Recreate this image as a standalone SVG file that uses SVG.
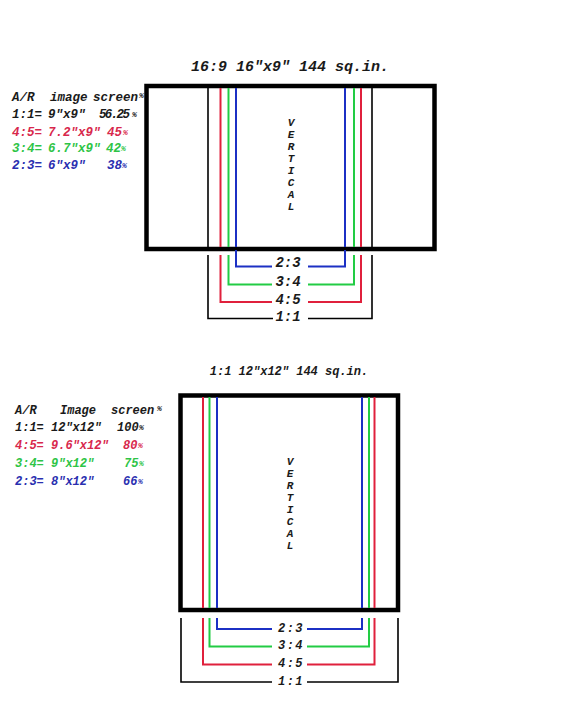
<svg xmlns="http://www.w3.org/2000/svg" width="576" height="720" viewBox="0 0 576 720">
<style>
text{font-family:"Liberation Mono","DejaVu Sans Mono",monospace;font-weight:bold;font-style:italic;fill:#1a1a1a}
.r{fill:#d8284c}.g{fill:#2ec446}.b{fill:#2a2fb0}
.frame{fill:none;stroke:#000;stroke-width:4.5}
.k{fill:none;stroke:#000;stroke-width:1.6}
.lr{fill:none;stroke:#e0203c;stroke-width:2}
.lg{fill:none;stroke:#22cc44;stroke-width:2}
.lb{fill:none;stroke:#1c30c4;stroke-width:2}
.pct{font-size:8px}
.vt{font-size:11px;text-anchor:middle}
.lbl1{font-size:14px;text-anchor:middle}
.lbl2{font-size:12px;text-anchor:middle;letter-spacing:1.5px}
</style>
<rect width="576" height="720" fill="#fff"/>

<g id="title-169"><text x="290" y="71" font-size="15" text-anchor="middle">16:9 16"x9" 144 sq.in.</text></g>

<g id="legend-169">
<text y="101" font-size="12.5"><tspan x="12">A/R</tspan><tspan x="50">image</tspan><tspan x="93">screen</tspan><tspan x="139" class="pct" dy="-3">%</tspan></text>
<text y="118" font-size="12.5"><tspan x="12">1:1=</tspan><tspan x="48">9"x9"</tspan><tspan x="99" textLength="31">56.25</tspan><tspan x="132" class="pct" dy="-1">%</tspan></text>
<text y="136" font-size="12.5" class="r"><tspan x="12">4:5=</tspan><tspan x="48">7.2"x9"</tspan><tspan x="107">45</tspan><tspan x="123" class="pct" dy="-1">%</tspan></text>
<text y="152" font-size="12.5" class="g"><tspan x="12">3:4=</tspan><tspan x="48">6.7"x9"</tspan><tspan x="106">42</tspan><tspan x="121" class="pct" dy="-1">%</tspan></text>
<text y="169" font-size="12.5" class="b"><tspan x="12">2:3=</tspan><tspan x="48">6"x9"</tspan><tspan x="107">38</tspan><tspan x="122" class="pct" dy="-1">%</tspan></text>
</g>

<g id="screen-169">
<rect class="frame" x="146.5" y="86" width="288" height="163"/>
<line class="k" x1="208" y1="86" x2="208" y2="249"/>
<line class="k" x1="372" y1="86" x2="372" y2="249"/>
<line class="lr" x1="220.5" y1="88" x2="220.5" y2="247"/>
<line class="lg" x1="228.5" y1="88" x2="228.5" y2="247"/>
<line class="lb" x1="236" y1="88" x2="236" y2="247"/>
<line class="lb" x1="345" y1="88" x2="345" y2="247"/>
<line class="lg" x1="354" y1="88" x2="354" y2="247"/>
<line class="lr" x1="361" y1="88" x2="361" y2="247"/>
<text class="vt"><tspan x="291" y="126">V</tspan><tspan x="291" y="138">E</tspan><tspan x="291" y="150">R</tspan><tspan x="291" y="162">T</tspan><tspan x="291" y="174">I</tspan><tspan x="291" y="186">C</tspan><tspan x="291" y="198">A</tspan><tspan x="291" y="210">L</tspan></text>
</g>

<g id="labels-169">
<text class="lbl1" x="288" y="267">2:3</text>
<text class="lbl1" x="288" y="286">3:4</text>
<text class="lbl1" x="288" y="304">4:5</text>
<text class="lbl1" x="288" y="321">1:1</text>
</g>

<g id="title-11"><text x="289" y="375" font-size="12" text-anchor="middle">1:1 12"x12" 144 sq.in.</text></g>

<g id="legend-11">
<text y="414" font-size="12"><tspan x="15">A/R</tspan><tspan x="60">Image</tspan><tspan x="111">screen</tspan><tspan x="157" class="pct" dy="-3">%</tspan></text>
<text y="431" font-size="12"><tspan x="15">1:1=</tspan><tspan x="51">12"x12"</tspan><tspan x="117">100</tspan><tspan x="139" class="pct" dy="-1">%</tspan></text>
<text y="449" font-size="12" class="r"><tspan x="15">4:5=</tspan><tspan x="51">9.6"x12"</tspan><tspan x="123">80</tspan><tspan x="138" class="pct" dy="-1">%</tspan></text>
<text y="467" font-size="12" class="g"><tspan x="15">3:4=</tspan><tspan x="51">9"x12"</tspan><tspan x="124">75</tspan><tspan x="139" class="pct" dy="-1">%</tspan></text>
<text y="485" font-size="12" class="b"><tspan x="15">2:3=</tspan><tspan x="51">8"x12"</tspan><tspan x="123">66</tspan><tspan x="138" class="pct" dy="-1">%</tspan></text>
</g>

<g id="screen-11">
<rect class="frame" x="180.5" y="395.5" width="217.5" height="214.5"/>
<line class="lr" x1="203" y1="397" x2="203" y2="608"/>
<line class="lg" x1="209.5" y1="397" x2="209.5" y2="608"/>
<line class="lb" x1="217" y1="397" x2="217" y2="608"/>
<line class="lb" x1="362" y1="397" x2="362" y2="608"/>
<line class="lg" x1="369" y1="397" x2="369" y2="608"/>
<line class="lr" x1="374.5" y1="397" x2="374.5" y2="608"/>
<text class="vt"><tspan x="290" y="465">V</tspan><tspan x="290" y="477">E</tspan><tspan x="290" y="489">R</tspan><tspan x="290" y="501">T</tspan><tspan x="290" y="513">I</tspan><tspan x="290" y="525">C</tspan><tspan x="290" y="537">A</tspan><tspan x="290" y="549">L</tspan></text>
</g>

<g id="labels-11">
<text class="lbl2" x="291" y="632">2:3</text>
<text class="lbl2" x="291" y="649">3:4</text>
<text class="lbl2" x="291" y="667">4:5</text>
<text class="lbl2" x="291" y="685">1:1</text>
</g>

<g id="connectors">
<polyline class="lb" points="236,250 236,266.5 272,266.5"/>
<polyline class="lb" points="308,266.5 345,266.5 345,250"/>
<polyline class="lg" points="228.5,255 228.5,284.5 272,284.5"/>
<polyline class="lg" points="308,284.5 354,284.5 354,255"/>
<polyline class="lr" points="220.5,255 220.5,302 272,302"/>
<polyline class="lr" points="308,302 361,302 361,255"/>
<polyline class="k" points="208,255 208,318.5 273,318.5"/>
<polyline class="k" points="308,318.5 372,318.5 372,255"/>

<polyline class="lb" points="217,618 217,629 272,629"/>
<polyline class="lb" points="307,629 362,629 362,618"/>
<polyline class="lg" points="209.5,618 209.5,646.5 272,646.5"/>
<polyline class="lg" points="307,646.5 369,646.5 369,618"/>
<polyline class="lr" points="203,618 203,664.5 272,664.5"/>
<polyline class="lr" points="307,664.5 374.5,664.5 374.5,618"/>
<polyline class="k" points="181,618 181,682 272,682"/>
<polyline class="k" points="307,682 398,682 398,618"/>
</g>
</svg>
